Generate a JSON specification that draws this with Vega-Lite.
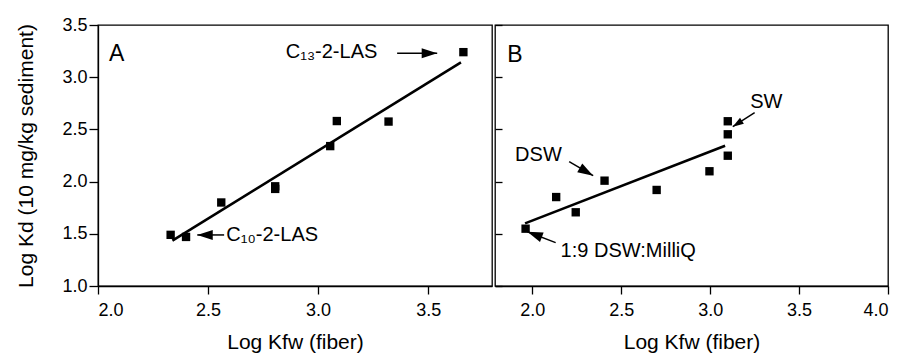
{
  "$schema": "https://vega.github.io/schema/vega-lite/v6.json",
  "background": "white",
  "padding": {"left": 15, "top": 15, "right": 0, "bottom": 0},
  "spacing": 0,
  "config": {
    "font": "Liberation Sans",
    "view": {"stroke": "black", "strokeWidth": 1.3},
    "axis": {
      "grid": false,
      "domainColor": "black",
      "domainWidth": 1.3,
      "tickColor": "black",
      "tickWidth": 1.3,
      "labelColor": "black",
      "titleColor": "black",
      "labelFont": "Liberation Sans",
      "titleFont": "Liberation Sans",
      "labelFontSize": 18,
      "titleFontSize": 21,
      "titleFontWeight": "normal"
    },
    "text": {"font": "Liberation Sans", "color": "black"}
  },
  "datasets": {
    "pointsA": [
      {"x": 2.33, "y": 1.49},
      {"x": 2.40, "y": 1.47},
      {"x": 2.56, "y": 1.80},
      {"x": 2.805, "y": 1.93},
      {"x": 2.805, "y": 1.955},
      {"x": 3.055, "y": 2.34},
      {"x": 3.085, "y": 2.58},
      {"x": 3.32, "y": 2.575},
      {"x": 3.66, "y": 3.24}
    ],
    "fitA": [
      {"x": 2.338, "y": 1.434},
      {"x": 3.649, "y": 3.143}
    ],
    "tagA": [{"x": 2.05, "y": 3.158, "label": "A"}],
    "labelsA": [
      {"x": 2.853, "y": 3.181, "label": "C₁₃-2-LAS"},
      {"x": 2.583, "y": 1.431, "label": "C₁₀-2-LAS"}
    ],
    "arrowsA": [
      {"name": "C13", "x": 3.359, "y": 3.229, "x2": 3.541, "y2": 3.229},
      {"name": "C10", "x": 2.573, "y": 1.489, "x2": 2.451, "y2": 1.489}
    ],
    "pointsB": [
      {"x": 1.962, "y": 1.549},
      {"x": 2.134, "y": 1.852},
      {"x": 2.244, "y": 1.706},
      {"x": 2.406, "y": 2.009},
      {"x": 2.699, "y": 1.92},
      {"x": 2.996, "y": 2.099},
      {"x": 3.099, "y": 2.248},
      {"x": 3.099, "y": 2.453},
      {"x": 3.099, "y": 2.578}
    ],
    "fitB": [
      {"x": 1.959, "y": 1.60},
      {"x": 3.084, "y": 2.344}
    ],
    "tagB": [{"x": 1.859, "y": 3.148, "label": "B"}],
    "labelsB": [
      {"x": 1.903, "y": 2.197, "label": "DSW"},
      {"x": 3.225, "y": 2.702, "label": "SW"},
      {"x": 2.159, "y": 1.281, "label": "1:9 DSW:MilliQ"}
    ],
    "arrowsB": [
      {"name": "DSW", "x": 2.207, "y": 2.191, "x2": 2.342, "y2": 2.057},
      {"name": "SW", "x": 3.25, "y": 2.66, "x2": 3.127, "y2": 2.526},
      {"name": "MilliQ", "x": 2.131, "y": 1.415, "x2": 1.972, "y2": 1.52}
    ]
  },
  "hconcat": [
    {
      "width": 394,
      "height": 261,
      "encoding": {
        "x": {
          "field": "x", "type": "quantitative",
          "scale": {"domain": [2, 3.79], "nice": false, "zero": false},
          "axis": {"values": [2, 2.5, 3, 3.5], "format": ".1f", "tickSize": 8, "labelPadding": 7, "titlePadding": 12, "title": "Log Kfw (fiber)"}
        },
        "y": {
          "field": "y", "type": "quantitative",
          "scale": {"domain": [1, 3.5], "nice": false, "zero": false},
          "axis": {"values": [1, 1.5, 2, 2.5, 3, 3.5], "format": ".1f", "tickSize": 9, "labelPadding": 2, "titlePadding": 25, "title": "Log Kd (10 mg/kg sediment)"}
        }
      },
      "layer": [
        {"data": {"name": "fitA"}, "mark": {"type": "line", "color": "black", "strokeWidth": 2.6}},
        {"data": {"name": "pointsA"}, "mark": {"type": "square", "size": 70, "color": "black", "opacity": 1}},
        {"data": {"name": "tagA"}, "mark": {"type": "text", "align": "left", "baseline": "alphabetic", "fontSize": 23}, "encoding": {"text": {"field": "label"}}},
        {"data": {"name": "labelsA"}, "mark": {"type": "text", "align": "left", "baseline": "alphabetic", "fontSize": 20}, "encoding": {"text": {"field": "label"}}},
        {"data": {"name": "arrowsA"}, "mark": {"type": "rule", "color": "black", "strokeWidth": 1.5}, "encoding": {"x2": {"field": "x2"}, "y2": {"field": "y2"}}},
        {"data": {"name": "arrowsA"}, "transform": [{"filter": "datum.name == 'C13'"}], "mark": {"type": "point", "shape": "M0,0 L0.65,2 L-0.65,2 Z", "size": 240, "angle": 90, "filled": true, "color": "black", "opacity": 1}, "encoding": {"x": {"field": "x2", "type": "quantitative"}, "y": {"field": "y2", "type": "quantitative"}}},
        {"data": {"name": "arrowsA"}, "transform": [{"filter": "datum.name == 'C10'"}], "mark": {"type": "point", "shape": "M0,0 L0.65,2 L-0.65,2 Z", "size": 240, "angle": 270, "filled": true, "color": "black", "opacity": 1}, "encoding": {"x": {"field": "x2", "type": "quantitative"}, "y": {"field": "y2", "type": "quantitative"}}}
      ]
    },
    {
      "width": 393,
      "height": 261,
      "encoding": {
        "x": {
          "field": "x", "type": "quantitative",
          "scale": {"domain": [1.79, 4.0], "nice": false, "zero": false},
          "axis": {"values": [2, 2.5, 3, 3.5, 4], "format": ".1f", "tickSize": 8, "labelPadding": 7, "titlePadding": 12, "title": "Log Kfw (fiber)"}
        },
        "y": {
          "field": "y", "type": "quantitative",
          "scale": {"domain": [1, 3.5], "nice": false, "zero": false},
          "axis": {"values": [1, 1.5, 2, 2.5, 3, 3.5], "labels": false, "domain": false, "tickSize": -7, "title": null}
        }
      },
      "layer": [
        {"data": {"name": "fitB"}, "mark": {"type": "line", "color": "black", "strokeWidth": 2.6}},
        {"data": {"name": "pointsB"}, "mark": {"type": "square", "size": 70, "color": "black", "opacity": 1}},
        {"data": {"name": "tagB"}, "mark": {"type": "text", "align": "left", "baseline": "alphabetic", "fontSize": 23}, "encoding": {"text": {"field": "label"}}},
        {"data": {"name": "labelsB"}, "mark": {"type": "text", "align": "left", "baseline": "alphabetic", "fontSize": 20}, "encoding": {"text": {"field": "label"}}},
        {"data": {"name": "arrowsB"}, "mark": {"type": "rule", "color": "black", "strokeWidth": 1.5}, "encoding": {"x2": {"field": "x2"}, "y2": {"field": "y2"}}},
        {"data": {"name": "arrowsB"}, "transform": [{"filter": "datum.name == 'DSW'"}], "mark": {"type": "point", "shape": "M0,0 L0.65,2 L-0.65,2 Z", "size": 240, "angle": 120, "filled": true, "color": "black", "opacity": 1}, "encoding": {"x": {"field": "x2", "type": "quantitative"}, "y": {"field": "y2", "type": "quantitative"}}},
        {"data": {"name": "arrowsB"}, "transform": [{"filter": "datum.name == 'SW'"}], "mark": {"type": "point", "shape": "M0,0 L0.65,2 L-0.65,2 Z", "size": 120, "angle": 237, "filled": true, "color": "black", "opacity": 1}, "encoding": {"x": {"field": "x2", "type": "quantitative"}, "y": {"field": "y2", "type": "quantitative"}}},
        {"data": {"name": "arrowsB"}, "transform": [{"filter": "datum.name == 'MilliQ'"}], "mark": {"type": "point", "shape": "M0,0 L0.65,2 L-0.65,2 Z", "size": 240, "angle": 291, "filled": true, "color": "black", "opacity": 1}, "encoding": {"x": {"field": "x2", "type": "quantitative"}, "y": {"field": "y2", "type": "quantitative"}}}
      ]
    }
  ]
}
